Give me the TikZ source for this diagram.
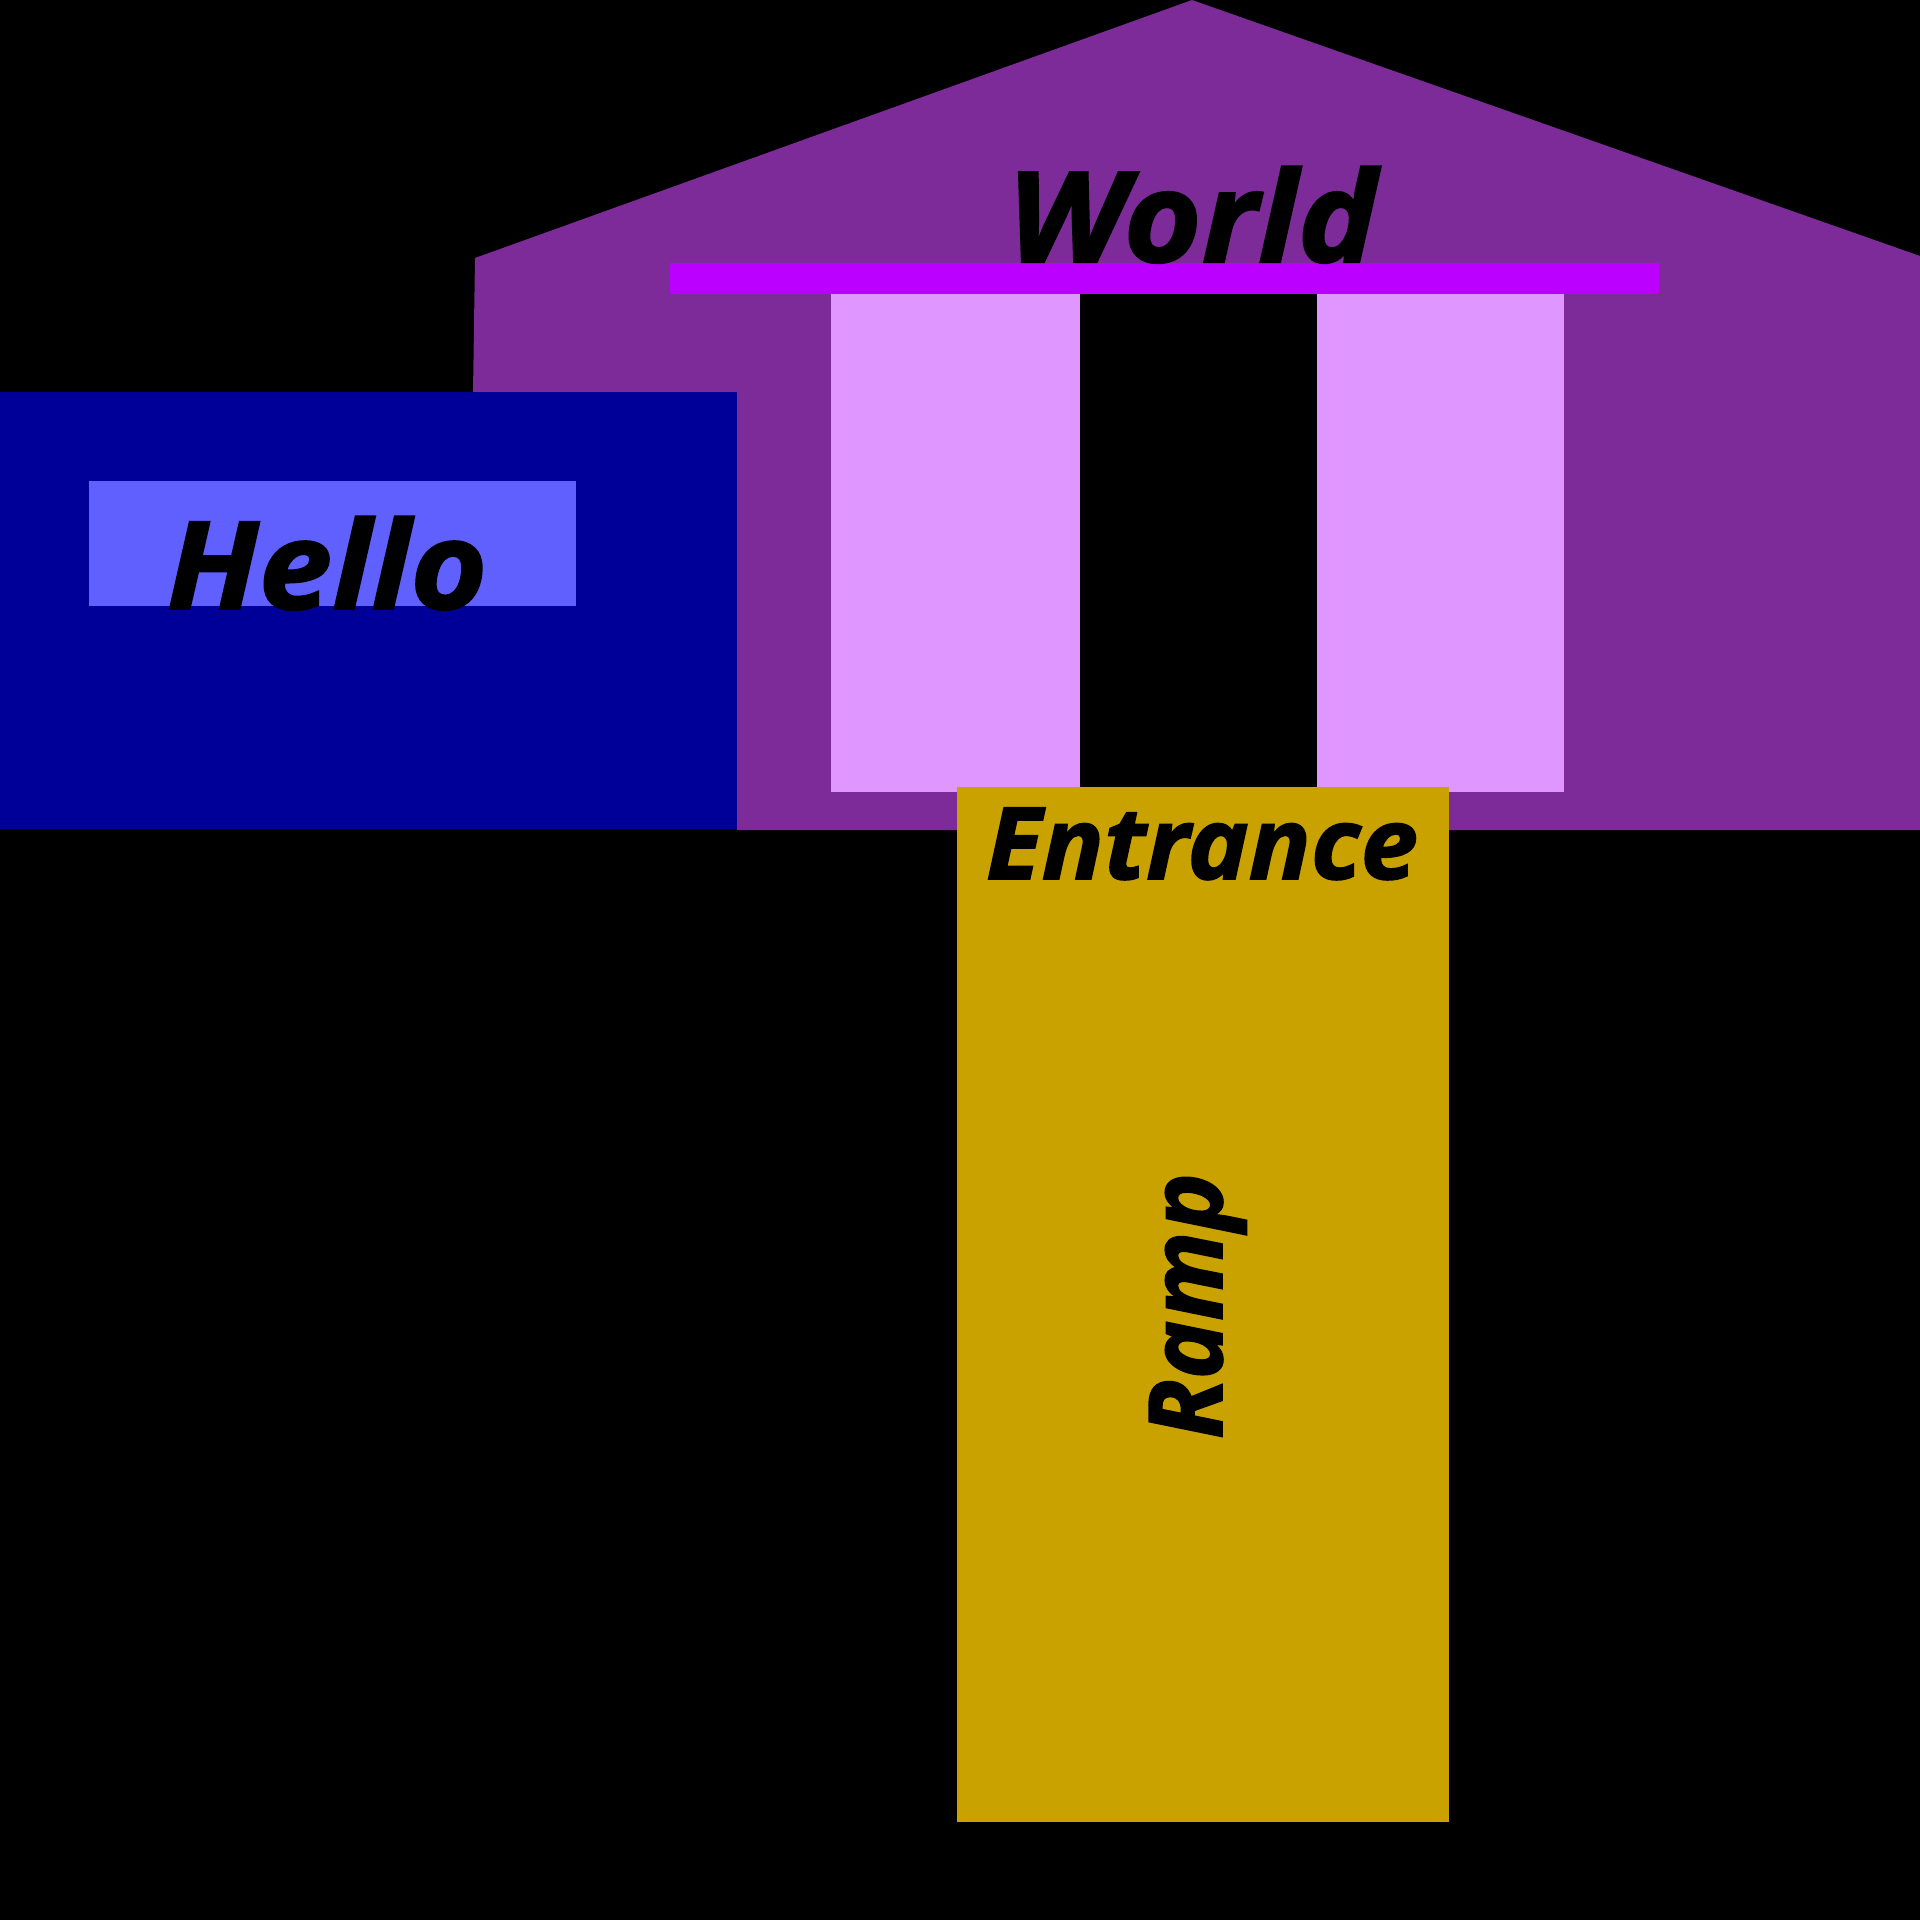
\documentclass[tikz,border=0pt]{standalone}
\usepackage{fontspec}
\setmainfont{Open Sans}[BoldItalicFeatures={FakeBold=1.6}]
\newfontfamily\worldfont{Open Sans}[BoldItalicFeatures={FakeBold=1.6,FakeStretch=1.06}]
\newfontfamily\hellofont{Open Sans}[BoldItalicFeatures={FakeBold=1.6,FakeStretch=1.08}]
\newfontfamily\entrancefont{Open Sans}[BoldItalicFeatures={FakeBold=1.6,FakeStretch=1.03}]
\newfontfamily\rampfont{Open Sans}[BoldItalicFeatures={FakeBold=1.6,FakeStretch=0.965}]
\definecolor{housepurple}{HTML}{7C2B98}
\definecolor{darkblue}{HTML}{000099}
\definecolor{lightblue}{HTML}{6060FF}
\definecolor{barmagenta}{HTML}{BB00FF}
\definecolor{pillarpink}{HTML}{E096FF}
\definecolor{rampgold}{HTML}{C9A200}
\tikzset{
  label text/.style={inner sep=0pt, outer sep=0pt, anchor=base, text=black}
}
\begin{document}
\begin{tikzpicture}[x=1pt,y=-1pt]
\fill[black] (0,0) rectangle (1920,1920);
\useasboundingbox (0,0) rectangle (1920,1920);
% house
\fill[housepurple] (475,258) -- (1192,0) -- (1920,256) -- (1920,830) -- (737,830) -- (737,393) -- (473,393) -- cycle;
% hello block
\fill[darkblue] (0,392) rectangle (737,829);
\fill[lightblue] (89,481) rectangle (576,606);
% beam, pillars and door
\fill[barmagenta] (670,263) rectangle (1659,294);
\fill[pillarpink] (831,294) rectangle (1080,792);
\fill[black] (1080,294) rectangle (1317,792);
\fill[pillarpink] (1317,294) rectangle (1564,792);
% ramp
\fill[rampgold] (957,787) rectangle (1449,1822);
% texts
\node[label text, font=\worldfont\fontsize{126}{150}\selectfont\bfseries\itshape] (world) at (1192,262) {World};
\node[label text, font=\hellofont\fontsize{122}{144}\selectfont\bfseries\itshape] (hello) at (327,609) {Hello};
\node[label text, font=\entrancefont\fontsize{100}{122}\selectfont\bfseries\itshape] (entrance) at (1202,879) {Entrance};
\node[label text, rotate=90, font=\rampfont\fontsize{102}{125}\selectfont\bfseries\itshape] (ramp) at (1222,1306) {Ramp};
\end{tikzpicture}
\end{document}
